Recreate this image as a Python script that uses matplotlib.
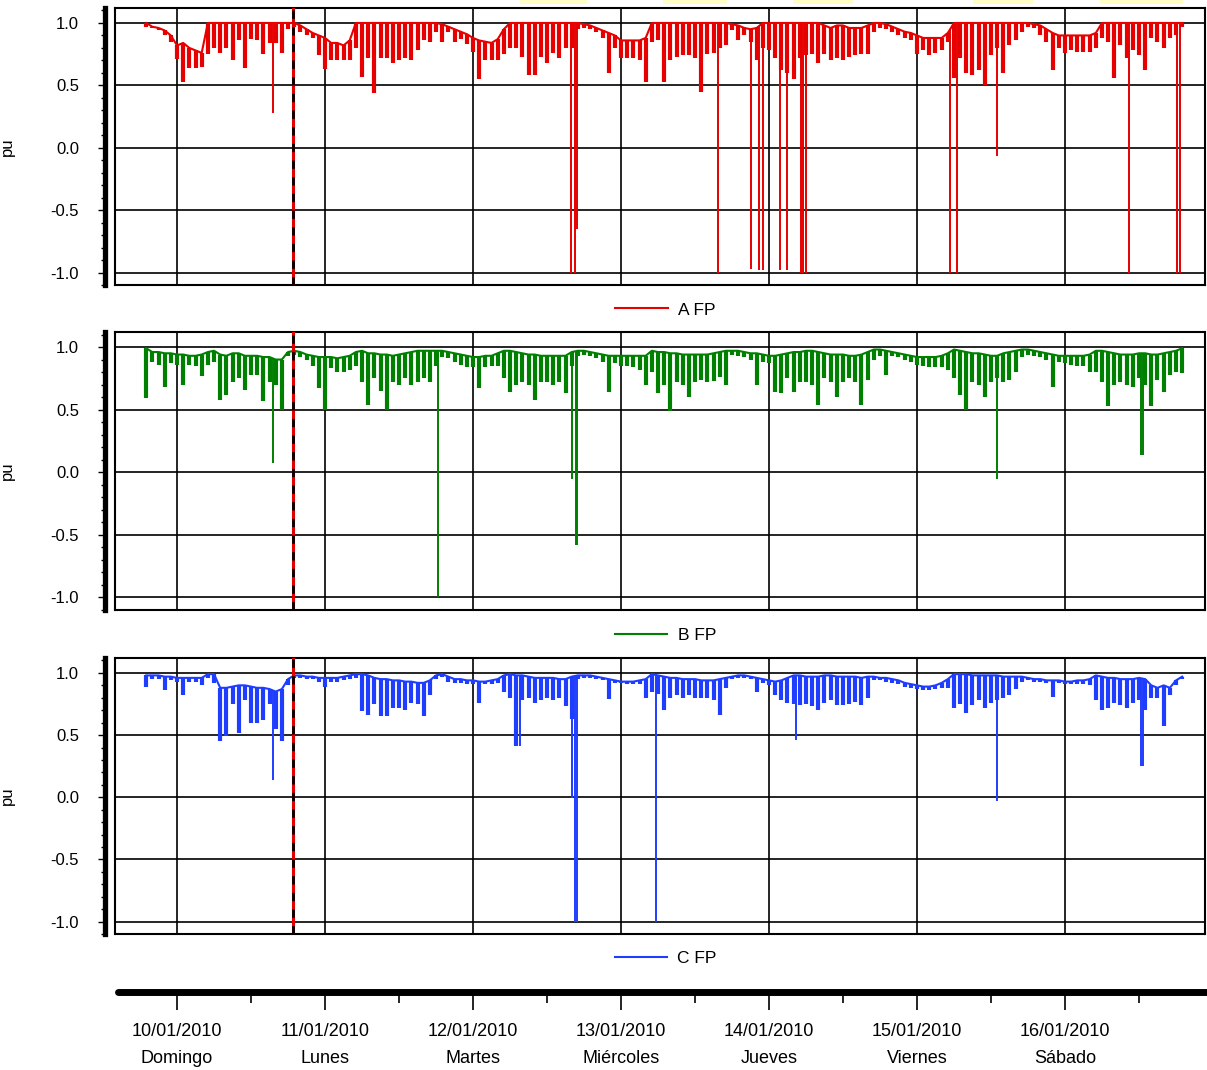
import numpy as np
import matplotlib
matplotlib.use('Agg')
import matplotlib.pyplot as plt
from matplotlib.ticker import MultipleLocator
from matplotlib.patches import Rectangle

plt.rcParams['font.family'] = ['Liberation Sans', 'DejaVu Sans']

# hourly samples, hours from 10/01/2010 00:00 (-5 .. 163)
hours = np.arange(-5, 164)

# phase A power factor: top and bottom of each hourly bar
a_upper = [1.0, 0.97, 0.96, 0.94, 0.90, 0.82, 0.84, 0.80, 0.78, 0.76, 1.0, 1.0,
           1.0, 1.0, 1.0, 1.0, 1.0, 1.0, 1.0, 1.0, 1.0, 1.0, 1.0, 1.0,
           1.0, 0.98, 0.95, 0.92, 0.90, 0.88, 0.84, 0.84, 0.82, 0.86, 1.0, 1.0,
           1.0, 1.0, 1.0, 1.0, 1.0, 1.0, 1.0, 1.0, 1.0, 1.0, 1.0, 1.0,
           0.99, 0.97, 0.95, 0.93, 0.91, 0.88, 0.86, 0.85, 0.84, 0.87, 0.95, 1.0,
           1.0, 1.0, 1.0, 1.0, 1.0, 1.0, 1.0, 1.0, 1.0, 1.0, 1.0, 0.99,
           0.98, 0.96, 0.94, 0.92, 0.90, 0.86, 0.86, 0.86, 0.86, 0.88, 1.0, 1.0,
           1.0, 1.0, 1.0, 1.0, 1.0, 1.0, 1.0, 1.0, 1.0, 1.0, 1.0, 0.99,
           0.98, 0.96, 0.95, 0.96, 1.0, 1.0, 1.0, 1.0, 1.0, 1.0, 1.0, 1.0,
           1.0, 1.0, 0.98, 0.96, 0.98, 0.98, 0.96, 0.96, 0.96, 0.98, 1.0, 1.0,
           0.99, 0.97, 0.95, 0.93, 0.92, 0.90, 0.88, 0.88, 0.88, 0.88, 0.92, 1.0,
           1.0, 1.0, 1.0, 1.0, 1.0, 1.0, 1.0, 1.0, 1.0, 1.0, 1.0, 1.0,
           0.99, 0.98, 0.95, 0.92, 0.90, 0.90, 0.90, 0.90, 0.90, 0.90, 0.92, 1.0,
           1.0, 1.0, 1.0, 1.0, 1.0, 1.0, 1.0, 1.0, 1.0, 1.0, 1.0, 1.0,
           1.0]
a_lower = [0.97, 0.96, 0.94, 0.90, 0.85, 0.71, 0.53, 0.64, 0.64, 0.65, 0.75, 0.80,
           0.76, 0.80, 0.70, 0.86, 0.64, 0.87, 0.86, 0.75, 0.84, 0.84, 0.76, 0.95,
           0.97, 0.93, 0.90, 0.88, 0.74, 0.63, 0.70, 0.70, 0.70, 0.70, 0.80, 0.57,
           0.72, 0.44, 0.72, 0.72, 0.68, 0.70, 0.72, 0.70, 0.78, 0.86, 0.85, 0.93,
           0.85, 0.93, 0.85, 0.87, 0.83, 0.77, 0.55, 0.70, 0.70, 0.70, 0.75, 0.80,
           0.80, 0.73, 0.58, 0.58, 0.73, 0.68, 0.76, 0.72, 0.80, 0.80, 0.95, 0.96,
           0.95, 0.93, 0.88, 0.60, 0.80, 0.72, 0.72, 0.72, 0.70, 0.53, 0.85, 0.86,
           0.53, 0.70, 0.73, 0.74, 0.74, 0.72, 0.45, 0.75, 0.76, 0.80, 0.82, 0.94,
           0.86, 0.90, 0.85, 0.70, 0.80, 0.78, 0.72, 0.62, 0.60, 0.55, 0.72, 0.74,
           0.75, 0.68, 0.75, 0.70, 0.72, 0.70, 0.73, 0.74, 0.75, 0.75, 0.93, 0.96,
           0.95, 0.93, 0.90, 0.88, 0.86, 0.75, 0.78, 0.74, 0.76, 0.78, 0.85, 0.56,
           0.72, 0.60, 0.58, 0.62, 0.50, 0.74, 0.80, 0.60, 0.82, 0.86, 0.93, 0.97,
           0.96, 0.90, 0.85, 0.62, 0.80, 0.76, 0.78, 0.77, 0.77, 0.77, 0.80, 0.88,
           0.85, 0.56, 0.82, 0.72, 0.78, 0.74, 0.62, 0.88, 0.85, 0.80, 0.88, 0.90,
           0.97]
# isolated drops (hour, value)
a_spike_t = [15.6, 63.9, 64.6, 64.9, 87.8, 93.1, 94.4, 95.0, 97.8, 98.9,
             101.2, 101.5, 102.0, 125.3, 126.5, 133.0, 154.4, 162.2, 162.6]
a_spike_v = [0.28, -1.0, -1.0, -0.65, -1.0, -0.97, -0.98, -0.98, -0.98, -0.98,
             -1.0, -1.0, -1.0, -1.0, -1.0, -0.07, -1.0, -1.0, -1.0]

# phase B
b_upper = [0.99, 0.96, 0.96, 0.95, 0.95, 0.94, 0.94, 0.93, 0.93, 0.94, 0.96, 0.97,
           0.94, 0.93, 0.95, 0.95, 0.93, 0.93, 0.93, 0.92, 0.92, 0.90, 0.90, 0.96,
           0.97, 0.96, 0.94, 0.93, 0.92, 0.92, 0.92, 0.91, 0.92, 0.93, 0.96, 0.97,
           0.95, 0.95, 0.94, 0.94, 0.93, 0.94, 0.95, 0.96, 0.97, 0.97, 0.97, 0.97,
           0.97, 0.96, 0.95, 0.94, 0.93, 0.92, 0.92, 0.93, 0.93, 0.95, 0.97, 0.97,
           0.96, 0.95, 0.94, 0.94, 0.93, 0.93, 0.93, 0.93, 0.93, 0.96, 0.97, 0.97,
           0.96, 0.95, 0.94, 0.93, 0.93, 0.93, 0.93, 0.93, 0.93, 0.93, 0.97, 0.96,
           0.96, 0.95, 0.95, 0.94, 0.94, 0.94, 0.94, 0.94, 0.95, 0.96, 0.97, 0.97,
           0.97, 0.96, 0.95, 0.95, 0.94, 0.93, 0.93, 0.94, 0.95, 0.96, 0.96, 0.97,
           0.97, 0.96, 0.95, 0.94, 0.94, 0.94, 0.93, 0.93, 0.94, 0.96, 0.98, 0.98,
           0.97, 0.96, 0.95, 0.94, 0.93, 0.92, 0.92, 0.92, 0.92, 0.93, 0.95, 0.98,
           0.97, 0.96, 0.95, 0.95, 0.94, 0.93, 0.93, 0.95, 0.96, 0.97, 0.98, 0.98,
           0.97, 0.96, 0.95, 0.94, 0.93, 0.93, 0.93, 0.93, 0.93, 0.94, 0.97, 0.97,
           0.96, 0.95, 0.94, 0.94, 0.94, 0.95, 0.95, 0.94, 0.94, 0.95, 0.96, 0.97,
           0.99]
b_lower = [0.59, 0.88, 0.86, 0.68, 0.87, 0.86, 0.70, 0.86, 0.85, 0.77, 0.86, 0.88,
           0.58, 0.62, 0.72, 0.75, 0.66, 0.78, 0.78, 0.57, 0.72, 0.70, 0.50, 0.93,
           0.94, 0.92, 0.90, 0.85, 0.67, 0.50, 0.83, 0.80, 0.80, 0.82, 0.85, 0.72,
           0.54, 0.75, 0.65, 0.50, 0.72, 0.70, 0.75, 0.70, 0.72, 0.75, 0.72, 0.85,
           0.92, 0.91, 0.88, 0.86, 0.84, 0.84, 0.67, 0.84, 0.85, 0.85, 0.75, 0.64,
           0.70, 0.72, 0.70, 0.58, 0.72, 0.72, 0.70, 0.72, 0.63, 0.85, 0.93, 0.94,
           0.93, 0.91, 0.88, 0.64, 0.87, 0.85, 0.85, 0.84, 0.82, 0.70, 0.80, 0.63,
           0.70, 0.49, 0.72, 0.70, 0.60, 0.72, 0.74, 0.72, 0.73, 0.76, 0.70, 0.94,
           0.93, 0.92, 0.90, 0.70, 0.88, 0.87, 0.64, 0.63, 0.75, 0.64, 0.72, 0.72,
           0.70, 0.54, 0.75, 0.72, 0.60, 0.72, 0.75, 0.72, 0.54, 0.74, 0.90, 0.93,
           0.78, 0.93, 0.92, 0.90, 0.88, 0.86, 0.85, 0.84, 0.84, 0.84, 0.82, 0.75,
           0.62, 0.50, 0.72, 0.70, 0.60, 0.72, 0.75, 0.72, 0.74, 0.80, 0.92, 0.94,
           0.93, 0.92, 0.90, 0.68, 0.88, 0.87, 0.86, 0.85, 0.85, 0.80, 0.80, 0.72,
           0.53, 0.70, 0.72, 0.70, 0.68, 0.75, 0.70, 0.53, 0.74, 0.64, 0.78, 0.80,
           0.79]
b_spike_t = [15.6, 42.3, 64.1, 64.7, 64.85, 133.0, 156.4, 156.6]
b_spike_v = [0.07, -1.0, -0.05, -0.58, -0.58, -0.05, 0.14, 0.14]

# phase C
c_upper = [0.98, 0.98, 0.98, 0.97, 0.97, 0.96, 0.96, 0.96, 0.96, 0.96, 0.99, 0.99,
           0.88, 0.88, 0.89, 0.90, 0.90, 0.89, 0.88, 0.88, 0.87, 0.85, 0.87, 0.95,
           0.98, 0.98, 0.97, 0.97, 0.96, 0.96, 0.96, 0.96, 0.97, 0.98, 0.99, 0.99,
           0.98, 0.96, 0.95, 0.95, 0.94, 0.94, 0.93, 0.93, 0.92, 0.92, 0.94, 0.98,
           0.99, 0.97, 0.95, 0.95, 0.94, 0.94, 0.93, 0.93, 0.94, 0.95, 0.98, 0.99,
           0.98, 0.98, 0.97, 0.96, 0.96, 0.96, 0.96, 0.95, 0.95, 0.97, 0.98, 0.98,
           0.98, 0.97, 0.96, 0.95, 0.94, 0.93, 0.93, 0.93, 0.94, 0.95, 0.99, 0.98,
           0.97, 0.96, 0.96, 0.95, 0.95, 0.95, 0.94, 0.94, 0.94, 0.95, 0.96, 0.97,
           0.98, 0.98, 0.97, 0.96, 0.95, 0.94, 0.93, 0.94, 0.96, 0.98, 0.98, 0.97,
           0.97, 0.97, 0.98, 0.98, 0.97, 0.97, 0.97, 0.97, 0.96, 0.97, 0.97, 0.96,
           0.96, 0.95, 0.94, 0.92, 0.91, 0.90, 0.89, 0.89, 0.90, 0.92, 0.95, 0.99,
           0.99, 0.99, 0.98, 0.98, 0.98, 0.98, 0.98, 0.97, 0.97, 0.97, 0.97, 0.96,
           0.95, 0.95, 0.94, 0.94, 0.94, 0.93, 0.93, 0.94, 0.94, 0.95, 0.98, 0.97,
           0.96, 0.96, 0.95, 0.95, 0.95, 0.96, 0.95, 0.90, 0.88, 0.90, 0.88, 0.94,
           0.97]
c_lower = [0.89, 0.95, 0.95, 0.86, 0.94, 0.93, 0.82, 0.93, 0.93, 0.90, 0.96, 0.92,
           0.45, 0.49, 0.75, 0.52, 0.78, 0.60, 0.60, 0.62, 0.75, 0.55, 0.45, 0.90,
           0.96, 0.96, 0.95, 0.95, 0.93, 0.89, 0.93, 0.93, 0.94, 0.95, 0.96, 0.69,
           0.66, 0.75, 0.65, 0.65, 0.72, 0.72, 0.70, 0.76, 0.75, 0.65, 0.82, 0.95,
           0.97, 0.93, 0.92, 0.92, 0.91, 0.91, 0.76, 0.91, 0.91, 0.92, 0.85, 0.80,
           0.41, 0.78, 0.80, 0.76, 0.78, 0.80, 0.78, 0.80, 0.73, 0.63, 0.95, 0.96,
           0.96, 0.95, 0.94, 0.79, 0.92, 0.92, 0.91, 0.91, 0.91, 0.80, 0.85, 0.83,
           0.70, 0.80, 0.82, 0.80, 0.82, 0.80, 0.80, 0.80, 0.78, 0.66, 0.88, 0.95,
           0.96, 0.96, 0.95, 0.85, 0.92, 0.90, 0.82, 0.78, 0.76, 0.75, 0.74, 0.75,
           0.73, 0.70, 0.76, 0.78, 0.74, 0.74, 0.75, 0.77, 0.74, 0.80, 0.94, 0.94,
           0.93, 0.92, 0.91, 0.89, 0.88, 0.87, 0.86, 0.86, 0.87, 0.88, 0.88, 0.72,
           0.75, 0.68, 0.74, 0.78, 0.72, 0.76, 0.78, 0.80, 0.82, 0.87, 0.93, 0.94,
           0.93, 0.93, 0.92, 0.81, 0.92, 0.91, 0.91, 0.91, 0.91, 0.90, 0.78, 0.70,
           0.72, 0.76, 0.74, 0.72, 0.76, 0.78, 0.70, 0.80, 0.80, 0.57, 0.82, 0.90,
           0.95]
c_spike_t = [15.6, 55.2, 55.6, 64.1, 64.6, 64.8, 77.6, 100.3, 133.0, 156.4, 156.6]
c_spike_v = [0.14, 0.41, 0.41, -0.01, -1.0, -1.0, -1.0, 0.46, -0.03, 0.25, 0.25]

day_dates = ['10/01/2010', '11/01/2010', '12/01/2010', '13/01/2010',
             '14/01/2010', '15/01/2010', '16/01/2010']
day_names = ['Domingo', 'Lunes', 'Martes', 'Miércoles', 'Jueves', 'Viernes', 'Sábado']
marker_day = 0.784  # dashed cursor line

W, H = 1207, 1070
XMIN, XMAX = -0.419, 6.946


def fx(px):
    return px / W


def fy(py):
    return 1 - py / H


def draw_panel(fig, top, bottom, upper, lower, spike_t, spike_v, color, label):
    ax = fig.add_axes([fx(115), fy(bottom), fx(1205) - fx(115), (bottom - top) / H])
    x = hours / 24.0
    # hourly bars from bottom value to top value, plus the top envelope
    ax.vlines(x, lower, upper, color=color, lw=3.0, zorder=3)
    ax.plot(x, upper, color=color, lw=1.5, zorder=3, label=label)
    # isolated deep drops
    st = np.array(spike_t)
    ax.vlines(st / 24.0, spike_v, np.interp(st, hours, upper), color=color, lw=1.4, zorder=3)

    ax.set_xlim(XMIN, XMAX)
    ax.set_ylim(-1.1, 1.12)
    ax.set_xticks(range(7))
    ax.set_yticks([-1.0, -0.5, 0.0, 0.5, 1.0])
    ax.yaxis.set_minor_locator(MultipleLocator(0.1))
    ax.grid(True, which='major', color='black', lw=1.2, zorder=1)
    ax.tick_params(axis='x', length=0, labelbottom=False)
    ax.tick_params(axis='y', which='major', direction='out', length=5, width=1,
                   labelsize=12, pad=14)
    ax.tick_params(axis='y', which='minor', direction='out', length=3, width=1)
    ax.set_yticklabels(['-1.0', '-0.5', '0.0', '0.5', '1.0'])

    # thick offset left axis, thin box around the plotting area
    ax.spines['left'].set_position(('outward', 7))
    ax.spines['left'].set_linewidth(3.8)
    for side in ['top', 'right', 'bottom']:
        ax.spines[side].set_linewidth(1.5)
    ax.plot([0, 0], [0, 1], transform=ax.transAxes, color='black', lw=1.5,
            clip_on=False, zorder=4)

    # cursor line: red under black dashes
    ax.axvline(marker_day, color='#e00000', lw=2.2, zorder=5)
    ax.axvline(marker_day, color='black', lw=2.0, dashes=(3, 3), zorder=6)

    ax.set_ylabel('pu', fontsize=12)
    ax.yaxis.set_label_coords(-0.092, 0.5)

    ax.legend(loc='center', bbox_to_anchor=(0.505, -0.09), frameon=False,
              fontsize=12.5, handlelength=3.0, handletextpad=0.6)
    return ax


fig = plt.figure(figsize=(W / 100, H / 100), dpi=100)

draw_panel(fig, 8, 285, a_upper, a_lower, a_spike_t, a_spike_v, '#e60000', 'A FP')
draw_panel(fig, 332, 610, b_upper, b_lower, b_spike_t, b_spike_v, '#008000', 'B FP')
draw_panel(fig, 658, 934, c_upper, c_lower, c_spike_t, c_spike_v, '#1f3dff', 'C FP')

# shared time axis at the bottom
axb = fig.add_axes([fx(118), fy(992), 1 - fx(118), 0.0001])
axb.set_xlim(-0.399, 6.959)
axb.set_ylim(0, 1)
for side in ['top', 'left', 'right']:
    axb.spines[side].set_visible(False)
axb.spines['bottom'].set_linewidth(5)
axb.spines['bottom'].set_capstyle('round')
axb.set_yticks([])
axb.set_xticks(range(7))
axb.set_xticklabels([d + '\n' + n for d, n in zip(day_dates, day_names)],
                    fontsize=13, linespacing=1.8)
axb.set_xticks(np.arange(0.5, 7, 1.0), minor=True)
axb.tick_params(axis='x', which='major', direction='out', length=13, width=1.2, pad=9)
axb.tick_params(axis='x', which='minor', direction='out', length=8, width=1.2)
axb.patch.set_visible(False)

# faint yellow marks along the top edge
for x0, x1 in [(520, 587), (663, 727), (793, 853), (973, 1033), (1100, 1183)]:
    fig.patches.append(Rectangle((fx(x0), fy(4)), fx(x1) - fx(x0), 4 / H,
                                 transform=fig.transFigure, color='#ffff70',
                                 alpha=0.4, lw=0))

fig.savefig('out.png', dpi=100)
